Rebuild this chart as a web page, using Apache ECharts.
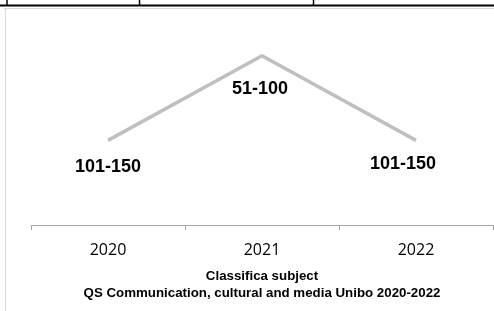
<!DOCTYPE html>
<html>
<head>
<meta charset="utf-8">
<script src="https://cdn.jsdelivr.net/npm/echarts@6/dist/echarts.min.js"></script>
<style>
  html, body { margin: 0; padding: 0; background: #fff; }
  #chart { width: 494px; height: 311px; }
</style>
</head>
<body>
<div id="chart"></div>
<script>
// anni della classifica
const years = ['2020', '2021', '2022'];
// fascia di posizione (etichetta) e valore medio della fascia
const rankLabels = ['101-150', '51-100', '101-150'];
const rankMid = [125, 75, 125];
const titleLines = ['Classifica subject', 'QS Communication, cultural and media Unibo 2020-2022'];

// offset delle etichette come nel grafico originale
const labelOffsets = [[0, 27], [-2, 33], [-13, 24]];

const chart = echarts.init(document.getElementById('chart'));

const option = {
  animation: false,
  title: {
    text: titleLines.join('\n'),
    left: 257,
    top: 263,
    textAlign: 'center',
    textStyle: {
      fontFamily: 'Liberation Sans',
      fontWeight: 'bold',
      fontSize: 13.3,
      lineHeight: 17,
      color: '#000'
    }
  },
  grid: { left: 31, right: 1, top: 5, bottom: 86 },
  xAxis: {
    type: 'category',
    data: years,
    boundaryGap: true,
    axisLine: { lineStyle: { color: '#a6a6a6', width: 1 } },
    axisTick: { show: true, length: 5, lineStyle: { color: '#a6a6a6' } },
    axisLabel: {
      fontFamily: 'Open Sans',
      fontSize: 16,
      color: '#000',
      margin: 17
    }
  },
  yAxis: {
    type: 'value',
    inverse: true,
    min: 45,
    max: 175,
    show: false
  },
  series: [{
    type: 'line',
    data: rankMid.map((v, i) => ({
      value: v,
      label: {
        show: true,
        position: 'inside',
        offset: labelOffsets[i],
        formatter: rankLabels[i]
      }
    })),
    symbol: 'circle',
    symbolSize: 1,
    showSymbol: true,
    itemStyle: { color: 'rgba(0,0,0,0)' },
    lineStyle: { color: '#bfbfbf', width: 3.5 },
    label: {
      fontFamily: 'Liberation Sans',
      fontWeight: 'bold',
      fontSize: 18,
      color: '#000'
    }
  }],
  graphic: [
    // cornice grigia del riquadro
    { type: 'line', shape: { x1: 4, y1: 8.5, x2: 494, y2: 8.5 }, style: { stroke: '#d9d9d9', lineWidth: 1 } },
    { type: 'line', shape: { x1: 5.5, y1: 8, x2: 5.5, y2: 311 }, style: { stroke: '#d9d9d9', lineWidth: 1 } },
    // bordi della tabella sopra
    { type: 'line', shape: { x1: 0, y1: 5.5, x2: 494, y2: 5.5 }, style: { stroke: '#000', lineWidth: 2 } },
    { type: 'line', shape: { x1: 7, y1: 0, x2: 7, y2: 6 }, style: { stroke: '#000', lineWidth: 1.5 } },
    { type: 'line', shape: { x1: 139.5, y1: 0, x2: 139.5, y2: 6 }, style: { stroke: '#000', lineWidth: 1.5 } },
    { type: 'line', shape: { x1: 313.5, y1: 0, x2: 313.5, y2: 6 }, style: { stroke: '#000', lineWidth: 1.5 } }
  ]
};

chart.setOption(option);
</script>
</body>
</html>
